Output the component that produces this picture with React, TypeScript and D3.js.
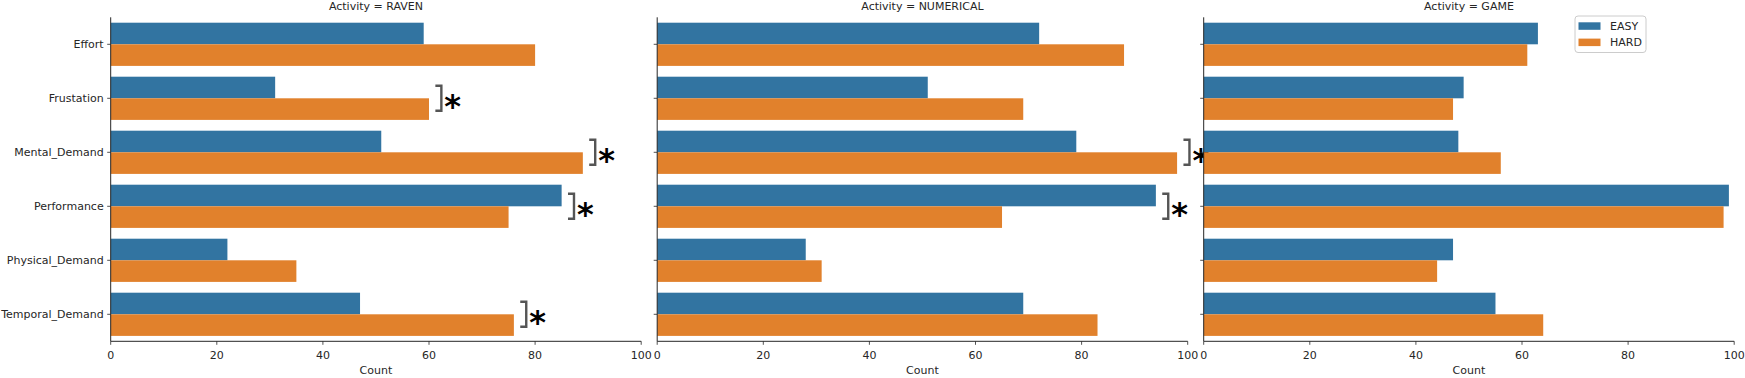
import * as d3 from "d3";

// facet titles and categories
const activities = ["RAVEN", "NUMERICAL", "GAME"];
const categories = [
  "Effort",
  "Frustation",
  "Mental_Demand",
  "Performance",
  "Physical_Demand",
  "Temporal_Demand",
];
const levels = ["EASY", "HARD"];
const xTicks = [0, 20, 40, 60, 80, 100];

// counts per activity, same order as categories
const ravenEasy = [59, 31, 51, 85, 22, 47];
const ravenHard = [80, 60, 89, 75, 35, 76];
const numericalEasy = [72, 51, 79, 94, 28, 69];
const numericalHard = [88, 69, 98, 65, 31, 83];
const gameEasy = [63, 49, 48, 99, 47, 55];
const gameHard = [61, 47, 56, 98, 44, 64];

// significant differences (marked with a bracket and *)
const ravenSignificant = ["Frustation", "Mental_Demand", "Performance", "Temporal_Demand"];
const numericalSignificant = ["Mental_Demand", "Performance"];
const gameSignificant: string[] = [];

const W = 1745;
const H = 378;
const panelLeft = 110.7;
const panelW = 530.5;
const panelGap = 16;
const top = 17.3;
const bottom = 341.3;
const colors = ["#3274a1", "#e1812c"];
const font = "DejaVu Sans, sans-serif";
const ink = "#262626";

const panels = [
  { name: activities[0], easy: ravenEasy, hard: ravenHard, sig: ravenSignificant },
  { name: activities[1], easy: numericalEasy, hard: numericalHard, sig: numericalSignificant },
  { name: activities[2], easy: gameEasy, hard: gameHard, sig: gameSignificant },
];

const y = d3.scaleBand<string>().domain(categories).range([top, bottom]);
const hue = d3
  .scaleBand<string>()
  .domain(levels)
  .range([y.bandwidth() * 0.1, y.bandwidth() * 0.9]);

function Panel({ p, i }: { p: (typeof panels)[number]; i: number }) {
  const x0 = panelLeft + i * (panelW + panelGap);
  const x = d3.scaleLinear().domain([0, 100]).range([x0, x0 + panelW]);
  const cx = x0 + panelW / 2;
  return (
    <g>
      <text x={cx} y={10} textAnchor="middle" fontSize={11} fill={ink} fontFamily={font}>
        {`Activity = ${p.name}`}
      </text>
      {categories.map((c, k) => (
        <g key={c}>
          {levels.map((lv, j) => {
            const v = j === 0 ? p.easy[k] : p.hard[k];
            return (
              <rect
                key={lv}
                x={x(0)}
                y={(y(c) as number) + (hue(lv) as number)}
                width={x(v) - x(0)}
                height={hue.bandwidth()}
                fill={colors[j]}
              />
            );
          })}
          <line
            x1={x0 - 3.5}
            x2={x0}
            y1={(y(c) as number) + y.bandwidth() / 2}
            y2={(y(c) as number) + y.bandwidth() / 2}
            stroke={ink}
            strokeWidth={0.8}
          />
          {i === 0 && (
            <text
              x={x0 - 7}
              y={(y(c) as number) + y.bandwidth() / 2}
              dy="0.35em"
              textAnchor="end"
              fontSize={11}
              fill={ink}
              fontFamily={font}
            >
              {c}
            </text>
          )}
        </g>
      ))}
      {p.sig.map((c) => {
        const k = categories.indexOf(c);
        const bx = x(Math.max(p.easy[k], p.hard[k]) + 1.2);
        const cy = (y(c) as number) + y.bandwidth() / 2;
        return (
          <g key={c}>
            <path
              d={`M${bx},${cy - 12.5}H${bx + 6}V${cy + 12.5}H${bx}`}
              fill="none"
              stroke="#555"
              strokeWidth={2.4}
            />
            <text
              x={bx + 9}
              y={cy + 19}
              fontSize={32}
              fontWeight="bold"
              fill="#000"
              fontFamily={font}
            >
              *
            </text>
          </g>
        );
      })}
      <line x1={x0} x2={x0} y1={top} y2={bottom} stroke={ink} strokeWidth={1} />
      <line x1={x0} x2={x0 + panelW} y1={bottom} y2={bottom} stroke={ink} strokeWidth={1} />
      {xTicks.map((t) => (
        <g key={t}>
          <line x1={x(t)} x2={x(t)} y1={bottom} y2={bottom + 3.5} stroke={ink} strokeWidth={0.8} />
          <text x={x(t)} y={358.5} textAnchor="middle" fontSize={11} fill={ink} fontFamily={font}>
            {t}
          </text>
        </g>
      ))}
      <text x={cx} y={374} textAnchor="middle" fontSize={11} fill={ink} fontFamily={font}>
        Count
      </text>
    </g>
  );
}

export default function App() {
  return (
    <svg
      width={W}
      height={H}
      style={{ position: "absolute", left: 0, top: 0, background: "#fff" }}
    >
      <rect width={W} height={H} fill="#fff" />
      {panels.map((p, i) => (
        <Panel key={p.name} p={p} i={i} />
      ))}
      <g>
        <rect x={1575} y={16} width={71} height={36.5} rx={3} fill="#fff" stroke="#ccc" strokeWidth={1} />
        {levels.map((lv, j) => (
          <g key={lv}>
            <rect x={1578.5} y={22.3 + j * 16.3} width={22} height={7.5} fill={colors[j]} />
            <text x={1610} y={26 + j * 16.3} dy="0.35em" fontSize={11} fill={ink} fontFamily={font}>
              {lv}
            </text>
          </g>
        ))}
      </g>
    </svg>
  );
}
